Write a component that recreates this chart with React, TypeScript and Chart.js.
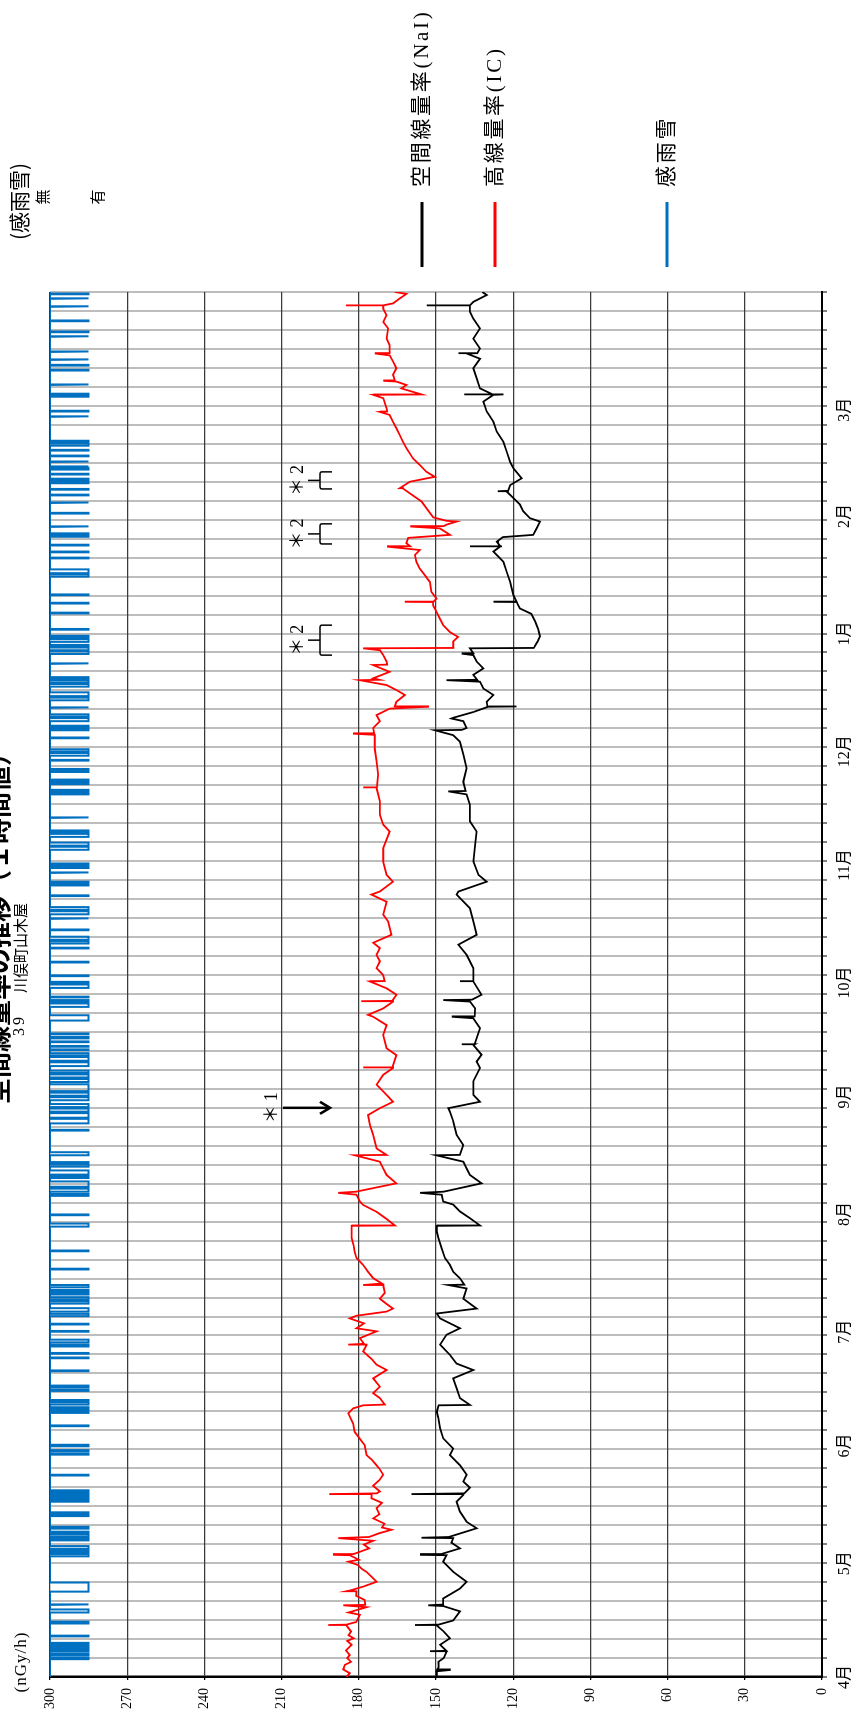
import React, { useEffect, useRef } from 'react';
import { Chart, registerables } from 'chart.js';

Chart.register(...registerables);

const W = 1712;
const H = 860;
const SERIF = "'Liberation Serif', 'Noto Sans CJK JP', serif";
const SANS_CJK = "'Noto Sans CJK JP', sans-serif";

const titleText = '空間線量率の推移（１時間値）';
const stationNo = '39';
const stationName = '川俣町山木屋';
const unitLabel = '(nGy/h)';
const rainAxisLabel = '(感雨雪)';
const rainNoLabel = '無';
const rainYesLabel = '有';

const monthLabels = ['4月', '5月', '6月', '7月', '8月', '9月', '10月', '11月', '12月', '1月', '2月', '3月'];
const monthStartDays = [0, 30, 61, 91, 122, 153, 183, 214, 244, 275, 306, 334];
const yearDays = 365;
const gridStepDays = 5;
const valueTicks = [0, 30, 60, 90, 120, 150, 180, 210, 240, 270, 300];

const seriesNames = ['空間線量率(NaI)', '高線量率(IC)', '感雨雪'];
const seriesColors = ['#000000', '#FF0000', '#0070C0'];

// rain: off = 300, on = 285
const rainOffValue = 300;
const rainOnValue = 285;

const naiPoints: [number, number][] = [
  [0, 149.7], [1.5, 149.7], [1.85, 144.6], [2.0, 149.5], [2.5, 149], [4, 149.1], [5, 147], [6.7, 145.9], [6.8, 152.3], [6.9, 146],
  [8.5, 148.4], [10.2, 144.6], [12, 147], [13.6, 149.7], [13.7, 158.2], [13.8, 149], [14.9, 143.3], [17.3, 140.7], [18.7, 147.2],
  [18.9, 153], [19.1, 147.2], [20.7, 147.2], [23.3, 140.7], [25.1, 138.1], [27.7, 143.3], [30.4, 147.2], [32.1, 145.9], [32.2, 156.2],
  [32.4, 148], [33.9, 140.7], [35.4, 144], [36.6, 143.3], [36.7, 155.6], [36.9, 145], [39.2, 134.2], [40.9, 138.1], [43.6, 140.7],
  [46.2, 142], [48.0, 139.4], [48.2, 159.5], [48.4, 139], [49.9, 136.8], [51.5, 139.4], [53.3, 138.1], [55.8, 140.7], [58.5, 144.6],
  [60.2, 143.3], [62.9, 147.2], [65.5, 148.4], [68.2, 149.1], [69.9, 149.7], [71.6, 149], [71.7, 136.8], [73.5, 140.7], [76.1, 142],
  [78.7, 143.3], [80.9, 135.5], [82.6, 142], [84.9, 144.6], [87.6, 148.4], [90.2, 145.9], [91.9, 140.7], [94.5, 148.4], [95.8, 149.7],
  [97.1, 134.2], [99.7, 139.4], [102.4, 138.1], [103.3, 145.2], [103.4, 139], [105.1, 140.7], [106.8, 143.3], [108.6, 144.6],
  [110.4, 146.5], [113.0, 147.8], [115.7, 149.1], [117.4, 149.7], [118.9, 149.7], [119.0, 132.9], [120.9, 136.8], [122.7, 140.7],
  [124.5, 143.3], [125.3, 147.2], [127.1, 147.8], [127.6, 156.2], [127.9, 147], [130.1, 132.3], [132.3, 136.8], [134.0, 138.1],
  [135.8, 139.4], [137.5, 149.9], [137.6, 140.7], [140.2, 139.4], [142.9, 142], [146.5, 143.3], [149.0, 144.6], [149.9, 145.2],
  [151.6, 132.9], [153.4, 135.5], [157.0, 135.5], [160.5, 132.9], [162.2, 134.2], [164.0, 132.3], [166.6, 135.5], [166.7, 140],
  [166.8, 135], [171.0, 132.9], [173.6, 135.5], [174.0, 143.9], [174.1, 135], [176.2, 134.8], [178.0, 136.8], [178.4, 147.2],
  [178.5, 136], [179.8, 132.3], [183.3, 135.5], [183.35, 140.7], [183.4, 135.5], [186.8, 135.5], [190.3, 138.1], [193.0, 141.3],
  [195.6, 134.2], [199.1, 135.5], [202.6, 136.8], [206.2, 142], [207.0, 141.3], [209.6, 130.3], [211.4, 133.5], [214.9, 135.5],
  [219.3, 134.8], [222.8, 134.2], [225.5, 136.8], [229.9, 136.8], [232.6, 138.1], [233.4, 145.2], [233.5, 138.5], [235.9, 139.4],
  [239.5, 138.1], [243.1, 139.4], [246.5, 140.7], [248.2, 143.3], [249.5, 150.4], [249.6, 140], [250.1, 138.1], [251.9, 139.4],
  [252.6, 144], [252.8, 143.3], [254.3, 135.5], [255.7, 129.7], [255.75, 118.7], [255.8, 130], [257.0, 130.3], [258.8, 127.7],
  [260.5, 131.6], [262.3, 132.9], [262.7, 145.9], [262.8, 134], [264.1, 135.5], [265.8, 131.6], [267.6, 134.2], [269.3, 135.5],
  [269.7, 140], [269.8, 135.5], [271.1, 136.8], [271.2, 112], [272.9, 110.5], [274.3, 109.6], [276.2, 110.3], [278.2, 111.5],
  [280.2, 113], [281.6, 117.4], [283.3, 118.7], [283.35, 127.7], [283.4, 118.7], [285.1, 119.9], [288.6, 121.2], [291.2, 122.5],
  [293.9, 123.8], [296.6, 127.7], [297.9, 125.1], [297.95, 136.8], [298.0, 125], [299.2, 126.4], [300.4, 124], [301.0, 112.2],
  [302.7, 110.9], [304.5, 109.6], [305.4, 113.5], [307.2, 116.1], [309.0, 117.4], [310.7, 119.9], [312.4, 122.5], [312.5, 126],
  [312.6, 122], [314.1, 121.2], [315.9, 116.7], [318.5, 119.9], [320.2, 121.2], [322.9, 122.5], [325.5, 123.8], [328.2, 126.4],
  [330.8, 127.7], [333.5, 130.3], [336.1, 131.6], [337.9, 127.7], [337.95, 139], [338.0, 123.8], [338.1, 128], [339.6, 132.9],
  [342.3, 134.2], [344.9, 135.5], [347.4, 132.9], [348.8, 138.1], [348.85, 141.3], [348.9, 134], [350.1, 132.9], [352.7, 135.5],
  [355.4, 132.9], [358.0, 135.5], [359.8, 136.8], [361.4, 136.8], [361.45, 153.6], [361.5, 136.8], [362.4, 135.5], [364.2, 130.3],
  [365, 132],
];

const icPoints: [number, number][] = [
  [0, 184.8], [1, 183.5], [2, 186.1], [3.2, 185.4], [4, 183], [5, 184.5], [5.8, 183.5], [7, 185], [8.5, 182.8], [9.5, 184.5],
  [10.2, 182], [11, 184], [12, 183], [13.6, 184.8], [13.7, 191.9], [13.8, 184.8], [14.5, 181], [16.4, 179.6], [17, 184], [18.4, 177],
  [18.9, 186], [19.0, 177.5], [20.3, 177.7], [21.4, 181], [22.5, 180.9], [22.6, 184.8], [22.9, 182.8], [23.9, 178], [25.1, 173.1],
  [26.4, 175], [27.7, 177], [28.6, 179], [29.5, 180.3], [30.4, 184], [30.9, 180], [32.1, 183.5], [32.2, 190], [32.4, 182], [33.4, 178],
  [33.9, 176], [34.9, 178], [35.9, 174.4], [36.6, 188], [36.9, 176], [37.9, 172], [38.8, 167.3], [39.4, 171], [40.4, 170],
  [41.8, 174.4], [42.9, 172], [44.5, 173.1], [45.9, 171], [47.1, 175.1], [48.0, 175], [48.2, 191.5], [48.4, 173], [48.9, 171.8],
  [50.4, 174.4], [51.9, 172], [53.3, 170.5], [54.9, 172], [55.8, 173.1], [57.3, 175], [58.5, 177], [61.1, 177.7], [62.8, 179.6],
  [64.6, 181.6], [66.8, 182.2], [69.5, 184.1], [70.8, 182.2], [71.6, 178.3], [71.8, 169.9], [73.5, 171.8], [74.8, 174.4],
  [76.5, 171.8], [78.7, 174.4], [80.9, 169.2], [82.3, 173.1], [83.8, 175], [85.8, 178.3], [87.5, 177], [87.6, 184.1], [87.8, 178],
  [89.3, 179.6], [91.1, 173.1], [91.9, 180.9], [93.2, 178], [94.5, 183.5], [95.2, 181], [96.3, 169.2], [97.1, 166.7], [98.2, 169],
  [99.7, 171.8], [101.2, 169.9], [103.2, 170.5], [103.3, 178.3], [103.7, 171], [105.1, 174.4], [106.8, 176.4], [108.6, 178.3],
  [110.4, 180.9], [112.1, 181.6], [113.7, 182], [115.7, 182.8], [118.9, 182.8], [119.0, 166], [120.7, 169.2], [122.6, 173.1],
  [124.4, 178.3], [125.3, 179.6], [127.1, 180.9], [127.6, 188], [127.9, 181], [130.1, 165.4], [132.3, 169.2], [134.0, 170.5],
  [135.8, 171.8], [137.5, 181.6], [137.6, 169.2], [139.3, 173.1], [142.9, 174.4], [145.5, 175.7], [148.1, 176.4], [149.9, 171.8],
  [151.6, 166.7], [153.4, 169.2], [156.1, 173.1], [158.7, 170.5], [160.5, 166.7], [160.6, 178.3], [160.7, 167], [163.9, 165.4],
  [165.7, 169.2], [169.2, 170.5], [171.8, 169.2], [174.0, 174.4], [174.5, 176.4], [176.2, 170.5], [178.0, 166.7], [178.1, 179],
  [178.2, 167], [179.8, 165.4], [181.5, 169.2], [183.3, 175.7], [183.4, 170], [185.0, 170.5], [186.8, 173.1], [188.6, 171.8],
  [190.3, 173.1], [192.1, 171.8], [193.5, 174.4], [195.6, 167.3], [199.1, 168.6], [200.9, 170.5], [204.3, 169.2], [206.2, 175.1],
  [207.0, 171.8], [209.6, 166.7], [211.4, 169.2], [214.9, 170.5], [218.4, 170.5], [222.8, 168], [224.6, 170.5], [227.2, 171.8],
  [230.8, 171.8], [234.3, 173.1], [234.4, 178.3], [234.5, 173], [237.8, 172.5], [241.2, 173.1], [244.7, 173.8], [248.3, 173.8],
  [248.6, 182.2], [248.7, 174], [250.1, 174.4], [251.9, 171.8], [253.5, 173.1], [255.2, 168], [255.7, 153.1], [255.8, 166],
  [257.0, 165.4], [258.8, 162.1], [260.1, 165.4], [261.4, 169.2], [262.7, 179.6], [262.8, 172], [263.2, 174.4], [264.9, 168],
  [266.7, 174.5], [266.8, 169], [267.6, 169.2], [269.3, 170.5], [270.6, 171.8], [271.1, 178.3], [271.2, 143.3], [272.9, 143.3],
  [274.1, 141.4], [275.4, 144.6], [277.2, 147.2], [278.9, 148.5], [280.7, 149.8], [282.4, 151.1], [283.3, 151.1], [283.35, 162.1],
  [283.4, 151], [284.2, 149.8], [286.0, 151.8], [288.6, 152.4], [290.4, 154.4], [292.1, 156.3], [293.9, 157.6], [295.7, 158.2],
  [297.0, 156.3], [297.9, 169], [298.0, 160], [298.8, 161.5], [300.2, 160.8], [301.0, 144.6], [302.7, 148.5], [303.2, 160],
  [303.3, 147], [303.7, 145.9], [304.5, 142], [304.7, 145.9], [305.6, 151.1], [308.0, 153.7], [309.8, 155.6], [311.4, 159],
  [313.2, 162.8], [313.3, 164.1], [315.0, 160.2], [316.3, 150.5], [317.6, 153.7], [319.4, 156.3], [321.1, 158.9], [323.8, 161.5],
  [325.5, 162.8], [327.3, 164.1], [329.1, 165.4], [330.8, 166.7], [332.6, 168], [333.4, 171.8], [333.5, 169], [334.3, 169.2],
  [337.0, 170.5], [337.9, 174.4], [338.0, 155.6], [339.6, 163.5], [340.5, 161.5], [341.4, 165.4], [341.6, 170.5], [341.7, 166],
  [343.2, 166.7], [344.9, 165.4], [346.7, 166.7], [348.3, 168], [348.8, 173.8], [348.9, 168], [351.0, 168], [352.7, 169.2],
  [355.4, 168.6], [357.1, 170.5], [358.9, 169.2], [360.6, 170.5], [361.4, 170.5], [361.45, 185], [361.5, 170.5], [362.0, 166.7],
  [363.3, 164.1], [364.5, 161.5], [365, 166],
];

const rainIntervals: [number, number][] = [
  [4.7, 5.2], [5.8, 6.2], [6.8, 7.2], [7.6, 8.0], [8.5, 9.0], [10.7, 10.9], [14.1, 14.6], [17.0, 17.8], [19.0, 19.2], [22.5, 24.9],
  [31.8, 32.4], [32.9, 33.3], [33.8, 34.5], [36.0, 36.5], [36.9, 37.5], [37.9, 38.3], [39.1, 39.6], [42.4, 42.9], [43.2, 43.4],
  [46.2, 46.7], [47.1, 47.5], [47.9, 48.4], [48.9, 49.2], [53.1, 53.3], [58.6, 58.8], [59.4, 59.8], [60.8, 61.2], [66.1, 66.3],
  [69.6, 70.1], [70.6, 71.1], [71.8, 72.4], [72.8, 73.0], [75.4, 75.8], [76.4, 76.8], [80.6, 80.8], [84.0, 84.2], [85.2, 85.4],
  [87.1, 87.6], [88.2, 88.9], [91.0, 91.2], [92.9, 93.1], [95.1, 95.7], [96.3, 97.2], [98.4, 99.0], [99.5, 100.1], [100.8, 101.3],
  [101.6, 102.0], [102.7, 103.3], [107.4, 107.6], [112.2, 112.4], [118.7, 119.5], [121.7, 121.9], [126.8, 127.3], [127.9, 128.7],
  [129.2, 130.6], [131.5, 132.0], [132.4, 133.5], [134.5, 135.1], [135.4, 135.7], [137.5, 138.3], [144.0, 144.2], [145.9, 147.1],
  [147.4, 148.6], [149.0, 149.8], [150.2, 151.0], [152.0, 152.8], [153.2, 154.0], [154.4, 156.2], [156.8, 157.6], [158.0, 158.8],
  [159.2, 159.8], [161.0, 162.0], [162.4, 163.4], [163.8, 164.4], [165.2, 165.4], [166.1, 166.3], [167.3, 167.5], [168.3, 168.7],
  [169.4, 169.6], [173.0, 174.4], [176.6, 177.5], [177.9, 178.4], [179.1, 179.3], [181.6, 182.5], [182.8, 183.2],
  [184.7, 184.9], [188.3, 188.5], [192.0, 192.2], [193.3, 193.9], [194.3, 195.1], [196.8, 197.0], [199.8, 200.0], [201.0, 201.8],
  [202.2, 202.9], [205.8, 206.0], [208.6, 209.0], [209.3, 209.6], [211.9, 212.1], [213.2, 213.7], [214.0, 214.4], [218.0, 218.8],
  [219.1, 219.9], [221.4, 222.2], [222.6, 223.1], [226.4, 226.6], [232.6, 233.0], [233.4, 233.8], [235.3, 235.8], [236.1, 236.5],
  [238.5, 238.7], [239.1, 239.3], [241.5, 241.7], [242.8, 243.5], [243.9, 244.5], [247.4, 247.6], [249.5, 250.0], [250.3, 250.7],
  [251.9, 252.7], [253.1, 253.7], [255.4, 255.6], [257.4, 258.1], [258.5, 259.5], [261.0, 261.7], [262.1, 262.7], [263.1, 263.5],
  [267.0, 267.2], [269.6, 270.3], [270.6, 271.3], [271.6, 272.0], [272.8, 273.5], [273.9, 274.4], [276.0, 276.2], [280.3, 280.5],
  [282.9, 283.1], [285.1, 285.3], [290.0, 290.6], [290.9, 291.9], [294.8, 295.0], [296.4, 296.6], [298.2, 298.4], [300.5, 300.7],
  [301.2, 301.4], [303.1, 303.3], [306.6, 306.8], [309.4, 309.6], [311.4, 311.6], [312.9, 313.1], [314.6, 315.1], [315.4, 315.8],
  [316.9, 317.1], [318.2, 318.6], [318.9, 319.1], [320.2, 320.4], [321.7, 321.9], [323.2, 323.4], [324.5, 325.1], [325.4, 325.8],
  [332.1, 332.3], [333.5, 333.7], [337.4, 337.7], [338.0, 338.2], [340.5, 340.7], [344.3, 344.5], [345.6, 345.8], [347.1, 347.3],
  [349.2, 349.4], [353.2, 353.4], [354.4, 354.6], [357.3, 357.5], [361.1, 361.3], [363.2, 363.4], [364.4, 364.6],
];

// annotations (in days)
const note1Day = 150;
const note1Label = '＊1';
const note2Ranges: [number, number][] = [[269.3, 277.2], [298.6, 303.9], [313.1, 317.6]];
const note2Label = '＊2';

function buildRainPoints() {
  const pts: { x: number; y: number }[] = [{ x: 0, y: rainOffValue }];
  rainIntervals.forEach(([s, e]) => {
    pts.push({ x: s, y: rainOffValue }, { x: s, y: rainOnValue }, { x: e, y: rainOnValue }, { x: e, y: rainOffValue });
  });
  pts.push({ x: yearDays, y: rainOffValue });
  return pts;
}

const gridDays: number[] = [];
for (let d = 0; d <= yearDays; d += gridStepDays) gridDays.push(d);
const tickDays = Array.from(new Set([...gridDays, ...monthStartDays])).sort((a, b) => a - b);

const decorPlugin = {
  id: 'decor',
  afterDraw(chart: any) {
    const ctx: CanvasRenderingContext2D = chart.ctx;
    const xs = chart.scales.x;
    ctx.save();
    ctx.fillStyle = '#000';
    ctx.strokeStyle = '#000';

    // title (mostly cut off at top)
    ctx.font = `bold 26px ${SANS_CJK}`;
    ctx.textAlign = 'center';
    ctx.textBaseline = 'middle';
    ctx.fillText(titleText, 790, -2);

    // station
    ctx.font = `16px ${SERIF}`;
    (ctx as any).letterSpacing = '3px';
    ctx.textAlign = 'left';
    ctx.fillText(stationNo, 676, 20);
    (ctx as any).letterSpacing = '0px';
    ctx.font = `15px ${SANS_CJK}`;
    ctx.fillText(stationName, 719, 20);

    // unit
    ctx.font = `17px ${SERIF}`;
    (ctx as any).letterSpacing = '1px';
    ctx.textAlign = 'center';
    ctx.fillText(unitLabel, 50, 22);
    (ctx as any).letterSpacing = '0px';

    // rain axis labels
    ctx.font = `21px ${SANS_CJK}`;
    ctx.textAlign = 'left';
    ctx.fillText(rainAxisLabel, 1472, 19);
    ctx.font = `15px ${SANS_CJK}`;
    ctx.textAlign = 'center';
    ctx.fillText(rainNoLabel, 1515, 42);
    ctx.fillText(rainYesLabel, 1515, 97);

    // legend
    const legendY = [422, 495, 667];
    seriesNames.forEach((name, i) => {
      ctx.strokeStyle = seriesColors[i];
      ctx.lineWidth = 3;
      ctx.beginPath();
      ctx.moveTo(1445, legendY[i]);
      ctx.lineTo(1510, legendY[i]);
      ctx.stroke();
      ctx.fillStyle = '#000';
      ctx.font = `21px ${SERIF}`;
      (ctx as any).letterSpacing = '2.7px';
      ctx.textAlign = 'left';
      ctx.textBaseline = 'middle';
      ctx.fillText(name, 1525, legendY[i]);
      (ctx as any).letterSpacing = '0px';
    });

    // note 1 with arrow
    ctx.fillStyle = '#000';
    ctx.strokeStyle = '#000';
    const n1x = xs.getPixelForValue(note1Day);
    ctx.font = `18px ${SERIF}`;
    (ctx as any).letterSpacing = '4px';
    ctx.textAlign = 'center';
    ctx.fillText(note1Label, n1x + 2, 272);
    (ctx as any).letterSpacing = '0px';
    ctx.lineWidth = 2.5;
    ctx.beginPath();
    ctx.moveTo(n1x, 283);
    ctx.lineTo(n1x, 329);
    ctx.stroke();
    ctx.beginPath();
    ctx.moveTo(n1x - 6, 320);
    ctx.lineTo(n1x, 330);
    ctx.lineTo(n1x + 6, 320);
    ctx.stroke();

    // note 2 braces
    note2Ranges.forEach(([s, e]) => {
      const x1 = xs.getPixelForValue(s);
      const x2 = xs.getPixelForValue(e);
      const cx = (x1 + x2) / 2;
      ctx.font = `18px ${SERIF}`;
      (ctx as any).letterSpacing = '4px';
      ctx.textAlign = 'center';
      ctx.fillText(note2Label, cx + 2, 298);
      (ctx as any).letterSpacing = '0px';
      ctx.lineWidth = 1.5;
      ctx.beginPath();
      ctx.moveTo(cx, 308);
      ctx.lineTo(cx, 320);
      ctx.moveTo(x1, 332);
      ctx.lineTo(x1, 322);
      ctx.quadraticCurveTo(x1, 320, x1 + 2, 320);
      ctx.lineTo(x2 - 2, 320);
      ctx.quadraticCurveTo(x2, 320, x2, 322);
      ctx.lineTo(x2, 332);
      ctx.stroke();
    });

    ctx.restore();
  },
};

export default function App() {
  const ref = useRef<HTMLCanvasElement>(null);

  useEffect(() => {
    const canvas = ref.current;
    if (!canvas) return;
    const chart = new Chart(canvas, {
      type: 'line',
      data: {
        datasets: [
          {
            label: seriesNames[2],
            data: buildRainPoints(),
            borderColor: seriesColors[2],
            borderWidth: 2,
            pointRadius: 0,
            tension: 0,
          },
          {
            label: seriesNames[0],
            data: naiPoints.map(([x, y]) => ({ x, y })),
            borderColor: seriesColors[0],
            borderWidth: 1.8,
            pointRadius: 0,
            tension: 0,
          },
          {
            label: seriesNames[1],
            data: icPoints.map(([x, y]) => ({ x, y })),
            borderColor: seriesColors[1],
            borderWidth: 1.8,
            pointRadius: 0,
            tension: 0,
          },
        ],
      },
      options: {
        animation: false,
        responsive: false,
        devicePixelRatio: 1,
        layout: { padding: { top: 50, right: 292, bottom: 0, left: 0 } },
        plugins: {
          legend: { display: false },
          tooltip: { enabled: false },
          title: { display: false },
        },
        scales: {
          x: {
            type: 'linear',
            min: 0,
            max: yearDays,
            afterBuildTicks: (scale: any) => {
              scale.ticks = tickDays.map((v) => ({ value: v }));
            },
            afterFit: (scale: any) => {
              scale.height = 38;
            },
            grid: {
              color: (c: any) => (c.tick && gridDays.includes(c.tick.value) ? '#bdbdbd' : 'rgba(0,0,0,0)'),
              tickColor: (c: any) => (c.tick && gridDays.includes(c.tick.value) ? '#000' : 'rgba(0,0,0,0)'),
              lineWidth: 2,
              tickWidth: 1,
              tickLength: 5,
            },
            border: { display: true, color: '#000', width: 2 },
            ticks: {
              autoSkip: false,
              maxRotation: 0,
              minRotation: 0,
              padding: 8,
              color: '#000',
              font: { size: 16, family: SERIF },
              callback: (v: any) => {
                const i = monthStartDays.indexOf(Number(v));
                return i >= 0 ? monthLabels[i] : '';
              },
            },
          },
          y: {
            type: 'linear',
            min: 0,
            max: 300,
            afterBuildTicks: (scale: any) => {
              scale.ticks = valueTicks.map((v) => ({ value: v }));
            },
            afterFit: (scale: any) => {
              scale.width = 35;
            },
            grid: {
              color: '#3a3a3a',
              lineWidth: 1.3,
              tickLength: 3,
              tickColor: '#000',
            },
            border: { display: true, color: '#000', width: 2.5 },
            ticks: {
              padding: 8,
              color: '#000',
              font: { size: 14, family: SERIF },
              callback: (v: any) => String(v),
            },
          },
        },
      } as any,
      plugins: [decorPlugin],
    });
    return () => chart.destroy();
  }, []);

  return (
    <div
      style={{
        position: 'absolute',
        left: 0,
        top: 0,
        width: H,
        height: W,
        overflow: 'hidden',
        background: '#fff',
      }}
    >
      <div
        style={{
          position: 'absolute',
          left: 0,
          top: 0,
          width: W,
          height: H,
          transformOrigin: '0 0',
          transform: `translate(0px, ${W}px) rotate(-90deg)`,
        }}
      >
        <canvas ref={ref} width={W} height={H} style={{ width: W, height: H, display: 'block' }} />
      </div>
    </div>
  );
}
